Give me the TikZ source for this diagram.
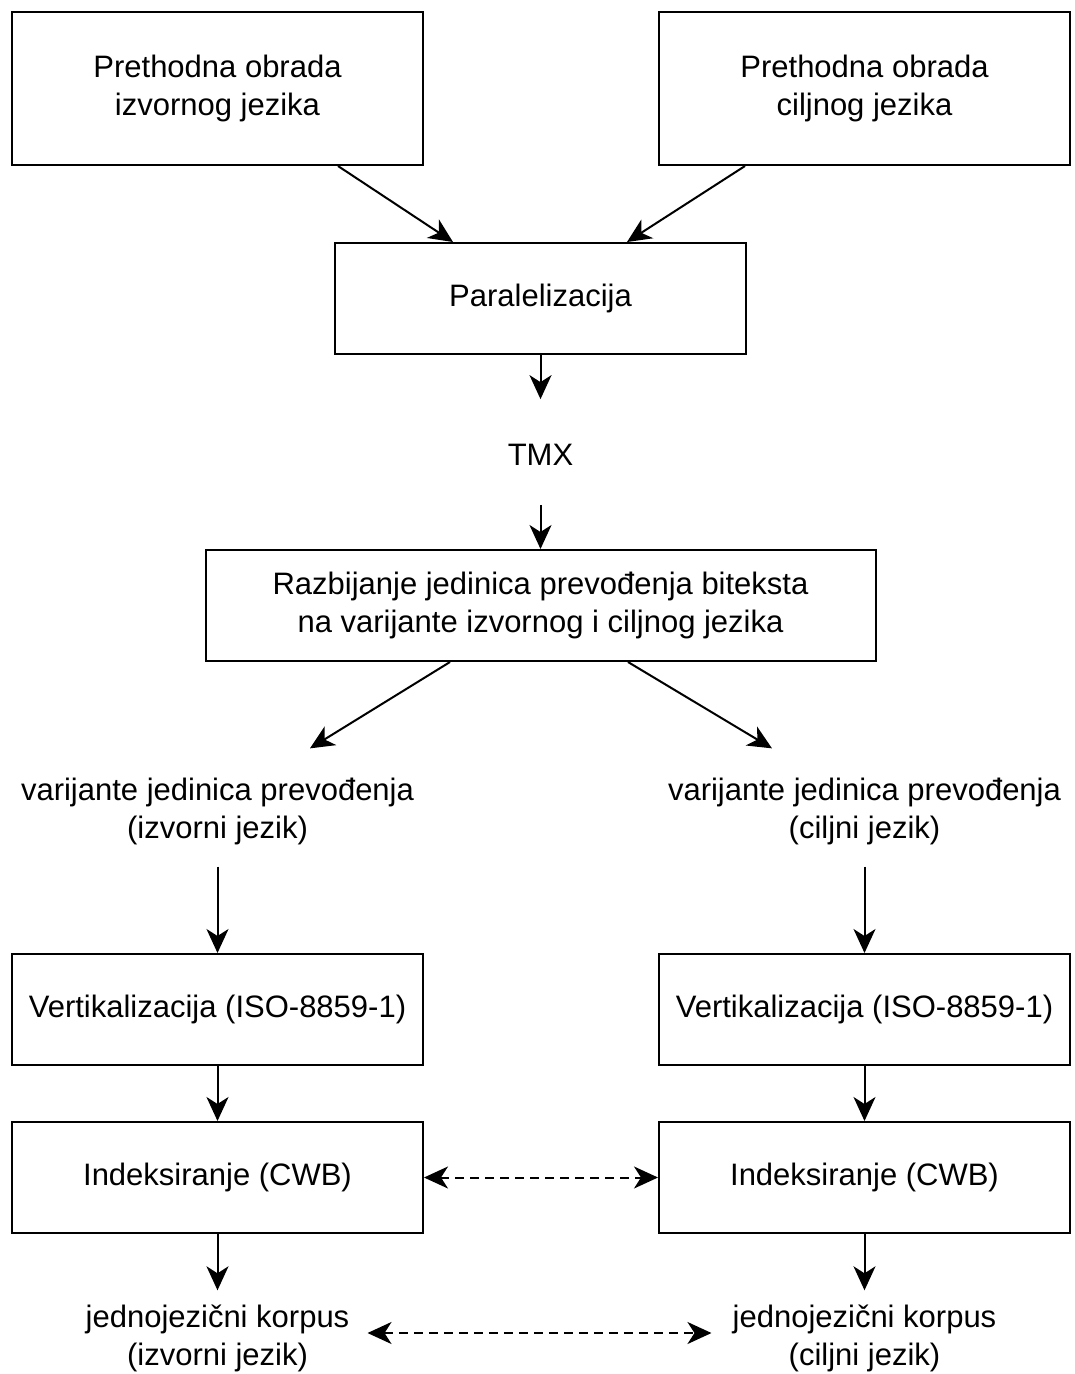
\documentclass[tikz,border=0pt]{standalone}
\usepackage{fontspec}
\setmainfont{Liberation Sans}
\usetikzlibrary{arrows.meta,calc}
\newcommand\lblfont{\fontsize{31}{38}\selectfont}
\begin{document}
\begin{tikzpicture}[x=1pt,y=-1pt,
  box/.style={draw, line width=2pt, minimum width=411pt, align=center, inner sep=0pt, font=\lblfont},
  lbl/.style={align=center, inner sep=0pt, font=\lblfont},
  arr/.style={line width=2pt, -{Stealth[length=24pt,width=22pt,inset=7pt]}},
  darr/.style={line width=2pt, dash pattern=on 9pt off 6pt,
    {Stealth[length=24pt,width=22pt,inset=7pt]}-{Stealth[length=24pt,width=22pt,inset=7pt]}}]
  % canvas
  \useasboundingbox[fill=white] (0,0) rectangle (1075,1374);

  % preprocessing
  \node[box, minimum height=153pt] (A) at (217.5,88.5) {Prethodna obrada\\izvornog jezika};
  \node[box, minimum height=153pt] (B) at (864.5,88.5) {Prethodna obrada\\ciljnog jezika};
  \node[box, minimum height=111pt] (P) at (540.5,298.5) {Paralelizacija};
  \node[lbl] (T) at (540.5,455) {TMX};
  \node[box, minimum width=670pt, minimum height=111pt] (R) at (540.5,605.5)
    {Razbijanje jedinica prevođenja biteksta\\na varijante izvornog i ciljnog jezika};

  % two branches
  \node[lbl] (L1) at (217.5,811) {varijante jedinica prevođenja\\(izvorni jezik)};
  \node[lbl] (L2) at (864.5,811) {varijante jedinica prevođenja\\(ciljni jezik)};
  \node[box, minimum height=111pt] (V1) at (217.5,1009.5) {Vertikalizacija (ISO-8859-1)};
  \node[box, minimum height=111pt] (V2) at (864.5,1009.5) {Vertikalizacija (ISO-8859-1)};
  \node[box, minimum height=111pt] (I1) at (217.5,1177.5) {Indeksiranje (CWB)};
  \node[box, minimum height=111pt] (I2) at (864.5,1177.5) {Indeksiranje (CWB)};
  \node[lbl] (K1) at (217.5,1338) {jednojezični korpus\\(izvorni jezik)};
  \node[lbl] (K2) at (864.5,1338) {jednojezični korpus\\(ciljni jezik)};

  % connectors
  \draw[arr] ([xshift=120.5pt]A.south) -- ([xshift=-87.5pt]P.north);
  \draw[arr] ([xshift=-119.5pt]B.south) -- ([xshift=86.5pt]P.north);
  \draw[arr] (P.south) -- ([yshift=45pt]T.north);
  \draw[arr] ([yshift=-39pt]T.south) -- (R.north);
  \draw[arr] ([xshift=-90.5pt]R.south) -- ([xshift=92.5pt,yshift=29pt]L1.north);
  \draw[arr] ([xshift=87.5pt]R.south) -- ([xshift=-92.5pt,yshift=29pt]L2.north);
  \draw[arr] ([yshift=-22pt]L1.south) -- (V1.north);
  \draw[arr] ([yshift=-22pt]L2.south) -- (V2.north);
  \draw[arr] (V1.south) -- (I1.north);
  \draw[arr] (V2.south) -- (I2.north);
  \draw[arr] (I1.south) -- ([yshift=14pt]K1.north);
  \draw[arr] (I2.south) -- ([yshift=14pt]K2.north);
  \draw[darr] (I1.east) -- (I2.west);
  \draw[darr] ([xshift=18pt,yshift=5pt]K1.east) -- ([xshift=-21pt,yshift=5pt]K2.west);
\end{tikzpicture}
\end{document}
